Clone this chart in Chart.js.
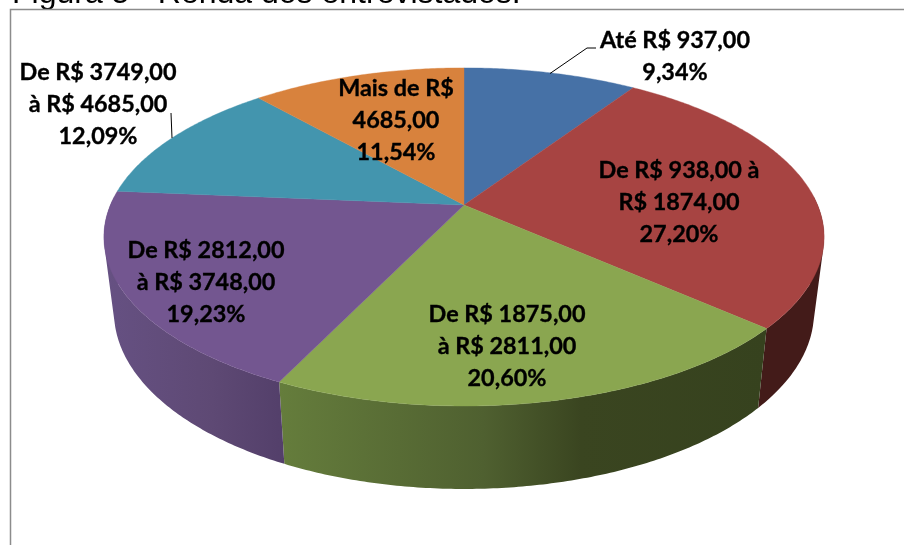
<!DOCTYPE html>
<html>
<head>
<meta charset="utf-8">
<style>html,body{margin:0;padding:0;background:#fff;overflow:hidden}canvas{display:block}</style>
<script src="https://cdn.jsdelivr.net/npm/chart.js@4/dist/chart.umd.min.js"></script>
</head>
<body>
<canvas id="c" width="904" height="545"></canvas>
<script>
const categories = ['Até R$ 937,00','De R$ 938,00 à R$ 1874,00','De R$ 1875,00 à R$ 2811,00','De R$ 2812,00 à R$ 3748,00','De R$ 3749,00 à R$ 4685,00','Mais de R$ 4685,00'];
const shares = [9.34, 27.20, 20.60, 19.23, 12.09, 11.54];
const shareLabels = ['9,34%','27,20%','20,60%','19,23%','12,09%','11,54%'];
const labelLines = [['Até R$ 937,00'],['De R$ 938,00 à','R$ 1874,00'],['De R$ 1875,00','à R$ 2811,00'],['De R$ 2812,00','à R$ 3748,00'],['De R$ 3749,00','à R$ 4685,00'],['Mais de R$','4685,00']];
const titleText = 'Figura 5 - Renda dos entrevistados.';

// styling and layout
const topColors = ['#4671a6','#a74442','#8aa650','#735690','#4395ae','#d8823d'];
const sideStops = [
  [['#2a3f5c',0],['#2a3f5c',1]],
  [['#431b19',0],['#431b19',1]],
  [['#657d3c',0],['#4f6030',0.42],['#3a4520',0.62],['#36421e',1]],
  [['#665183',0],['#5e4974',0.6],['#533f6a',1]],
  [['#27586a',0],['#27586a',1]],
  [['#7c4a22',0],['#7c4a22',1]]
];
const labelAnchors = [[675,40],[679,170],[507,314],[206,250],[98,72],[396,88]];
const lineStep = 32.4;
const K = 0.189, CX = 464;
const rimTop = {a:353.6, b:163, y:205};
const rimBottom = {a:343.7, b:170.6, y:278.6};

function project(angle, rim){
  const u = Math.cos(angle), v = Math.sin(angle), w = 1 - K*v;
  return [CX + rim.a*u/w, rim.y + rim.b*v/w];
}

const pie3d = {
  id:'pie3d',
  beforeDatasetDraw(){ return false; },
  afterDatasetsDraw(chart){
    const ctx = chart.ctx, arcs = chart.getDatasetMeta(0).data;
    // title and frame
    ctx.save();
    ctx.fillStyle='#000'; ctx.font='32px "Liberation Sans"'; ctx.textAlign='left'; ctx.textBaseline='alphabetic';
    ctx.fillText(titleText, 12, 3);
    ctx.strokeStyle='#8c8c8c'; ctx.lineWidth=1.5;
    ctx.beginPath(); ctx.moveTo(10.5,600); ctx.lineTo(10.5,9.5); ctx.lineTo(910,9.5); ctx.stroke();
    // walls
    arcs.forEach((arc,i)=>{
      const p = arc.getProps(['startAngle','endAngle'],true);
      const xs=[];
      const n = Math.ceil((p.endAngle-p.startAngle)/0.01);
      for(let j=0;j<=n;j++){ const a=p.startAngle+(p.endAngle-p.startAngle)*j/n; xs.push(project(a,rimTop)[0],project(a,rimBottom)[0]); }
      const g = ctx.createLinearGradient(Math.min(...xs),0,Math.max(...xs),0);
      sideStops[i].forEach(s=>g.addColorStop(s[1],s[0]));
      ctx.fillStyle=g;
      ctx.beginPath();
      for(let j=0;j<n;j++){
        const a0=p.startAngle+(p.endAngle-p.startAngle)*j/n, a1=p.startAngle+(p.endAngle-p.startAngle)*(j+1)/n;
        if(Math.sin(a1) < -0.05 && Math.sin(a0) < -0.05) continue;
        let q=[project(a0,rimTop),project(a1,rimTop),project(a1,rimBottom),project(a0,rimBottom)];
        let area=0;
        for(let m=0;m<4;m++){const A=q[m],B=q[(m+1)%4];area+=A[0]*B[1]-B[0]*A[1];}
        if(area<0) q.reverse();
        ctx.moveTo(q[0][0],q[0][1]);ctx.lineTo(q[1][0],q[1][1]);ctx.lineTo(q[2][0],q[2][1]);ctx.lineTo(q[3][0],q[3][1]);ctx.closePath();
      }
      ctx.fill('nonzero');
    });
    // top faces
    arcs.forEach((arc,i)=>{
      const p = arc.getProps(['startAngle','endAngle'],true);
      const n = Math.ceil((p.endAngle-p.startAngle)/0.01);
      ctx.beginPath(); ctx.moveTo(CX,rimTop.y);
      for(let j=0;j<=n;j++){ const q=project(p.startAngle+(p.endAngle-p.startAngle)*j/n,rimTop); ctx.lineTo(q[0],q[1]); }
      ctx.closePath();
      ctx.fillStyle=topColors[i]; ctx.fill();
      ctx.strokeStyle=topColors[i]; ctx.lineWidth=0.4; ctx.stroke();
    });
    // leader lines
    ctx.strokeStyle='#000'; ctx.lineWidth=1;
    ctx.beginPath(); ctx.moveTo(550,73.5); ctx.lineTo(587,48); ctx.lineTo(596,48); ctx.stroke();
    ctx.beginPath(); ctx.moveTo(171,113); ctx.lineTo(172,138); ctx.stroke();
    // labels
    ctx.fillStyle='#000'; ctx.strokeStyle='#000'; ctx.lineWidth=0.35; ctx.font='bold 23.4px Lato'; ctx.textAlign='center'; ctx.textBaseline='middle';
    labelLines.forEach((lines,i)=>{
      const [x,y]=labelAnchors[i];
      lines.concat(shareLabels[i]).forEach((t,k)=>{ctx.fillText(t,x,y+k*lineStep);ctx.strokeText(t,x,y+k*lineStep);});
    });
    ctx.restore();
  }
};

new Chart(document.getElementById('c'),{
  type:'pie',
  data:{labels:categories,datasets:[{data:shares,backgroundColor:topColors,borderWidth:0}]},
  options:{responsive:false,animation:false,plugins:{legend:{display:false},tooltip:{enabled:false},title:{display:false}}},
  plugins:[pie3d]
});
</script>
</body>
</html>
